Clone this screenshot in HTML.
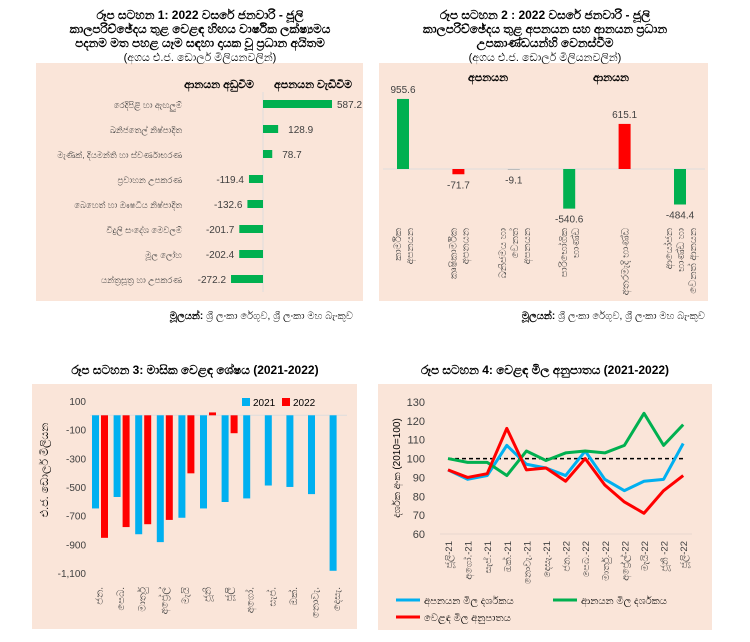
<!DOCTYPE html>
<html><head><meta charset="utf-8"><style>
body{margin:0;background:#fff;width:750px;height:637px;overflow:hidden}
svg text{font-family:"Liberation Sans","Noto Sans CJK SC",sans-serif}
</style></head><body>
<svg id="c" width="750" height="637" xmlns="http://www.w3.org/2000/svg">
<g>
<rect x="36" y="63" width="327" height="238" fill="#fae5d9"/>
<text x="200" y="19" text-anchor="middle" font-size="12" font-weight="bold">රූප සටහන 1: 2022 වසරේ ජනවාරි - ජූලි</text>
<text x="200" y="33" text-anchor="middle" font-size="12" font-weight="bold">කාලපරිච්ඡේදය තුළ වෙළඳ හිඟය වාර්ෂික ලක්ෂ්‍යමය</text>
<text x="200" y="47" text-anchor="middle" font-size="12" font-weight="bold">පදනම මත පහළ යෑම සඳහා දායක වූ ප්‍රධාන අයිතම</text>
<text x="200" y="61" text-anchor="middle" font-size="11">(අගය එ.ජ. ඩොලර් මිලියනවලින්)</text>
<text x="219" y="88" text-anchor="middle" font-size="11" font-weight="bold">ආනයන අඩුවීම</text>
<text x="313" y="88" text-anchor="middle" font-size="11" font-weight="bold">අපනයන වැඩිවීම</text>
<line x1="263" y1="92" x2="263" y2="292" stroke="#ddd"/>
<g id="p1"></g>
<text x="353" y="319" text-anchor="end" font-size="10"><tspan font-weight="bold">මූලයන්:</tspan> ශ්‍රී ලංකා රේගුව, ශ්‍රී ලංකා මහ බැංකුව</text>
</g>
<g>
<rect x="379" y="63" width="329" height="238" fill="#fae5d9"/>
<text x="545" y="19" text-anchor="middle" font-size="12" font-weight="bold">රූප සටහන 2 : 2022 වසරේ ජනවාරි - ජූලි</text>
<text x="545" y="33" text-anchor="middle" font-size="12" font-weight="bold">කාලපරිච්ඡේදය තුළ අපනයන සහ ආනයන ප්‍රධාන</text>
<text x="545" y="47" text-anchor="middle" font-size="12" font-weight="bold">උපකාණ්ඩයන්හි වෙනස්වීම</text>
<text x="545" y="61" text-anchor="middle" font-size="11">(අගය එ.ජ. ඩොලර් මිලියනවලින්)</text>
<text x="488" y="81" text-anchor="middle" font-size="11" font-weight="bold">අපනයන</text>
<text x="611" y="81" text-anchor="middle" font-size="11" font-weight="bold">ආනයන</text>
<line x1="383" y1="169" x2="705" y2="169" stroke="#ddd"/>
<g id="p2"></g>
<text x="705" y="319" text-anchor="end" font-size="10"><tspan font-weight="bold">මූලයන්:</tspan> ශ්‍රී ලංකා රේගුව, ශ්‍රී ලංකා මහ බැංකුව</text>
</g>
<g>
<rect x="32" y="384" width="325" height="245" fill="#fae5d9"/>
<text x="195" y="374" text-anchor="middle" font-size="12" font-weight="bold">රූප සටහන 3: මාසික වෙළඳ ශේෂය (2021-2022)</text>
<text transform="translate(48,470) rotate(-90)" text-anchor="middle" font-size="11">එ.ජ. ඩොලර් මිලියන</text>
<rect x="242" y="398" width="8" height="8" fill="#00b0f0"/>
<text x="253" y="406" font-size="10">2021</text>
<rect x="282" y="398" width="8" height="8" fill="#ff0000"/>
<text x="293" y="406" font-size="10">2022</text>
<g id="p3"></g>
</g>
<g>
<rect x="378" y="384" width="334" height="246" fill="#fae5d9"/>
<text x="545" y="374" text-anchor="middle" font-size="12" font-weight="bold">රූප සටහන 4: වෙළඳ මිල අනුපාතය (2021-2022)</text>
<text transform="translate(400,468) rotate(-90)" text-anchor="middle" font-size="10">දර්ශක අංක (2010=100)</text>
<g id="p4"></g>
<line x1="396" y1="600" x2="420" y2="600" stroke="#00b0f0" stroke-width="3"/>
<text x="424" y="604" font-size="10">අපනයන මිල දර්ශකය</text>
<line x1="553" y1="600" x2="577" y2="600" stroke="#00b050" stroke-width="3"/>
<text x="581" y="604" font-size="10">ආනයන මිල දර්ශකය</text>
<line x1="396" y1="617" x2="420" y2="617" stroke="#ff0000" stroke-width="3"/>
<text x="424" y="621" font-size="10">වෙළඳ මිල අනුපාතය</text>
</g>
</svg>
<script>
const p1Cats=["රෙදිපිළි හා ඇඟලුම්","ඛනිජතෙල් නිෂ්පාදිත","මැණික්, දියමන්ති හා ස්වර්ණාභරණ","ප්‍රවාහන උපකරණ","බෙහෙත් හා ඖෂධීය නිෂ්පාදිත","විදුලි සංදේශ මෙවලම්","මූල ලෝහ","යන්ත්‍රසූත්‍ර හා උපකරණ"];
const p1Vals=[587.2,128.9,78.7,-119.4,-132.6,-201.7,-202.4,-272.2];
const p2Cats=[["කාර්මික","අපනයන"],["කෘෂිකාර්මික","අපනයන"],["ඛනිජමය හා","වෙනත්","අපනයන"],["පාරිභෝගික","භාණ්ඩ"],["අතරමැදි භාණ්ඩ"],["ආයෝජන","භාණ්ඩ හා","වෙනත් ආනයන"]];
const p2Vals=[955.6,-71.7,-9.1,-540.6,615.1,-484.4];
const p2Colors=["#00b050","#ff0000","#bbb","#00b050","#ff0000","#00b050"];
const p3Months=["ජන.","පෙබ.","මාර්තු","අප්‍රේල්","මැයි","ජූනි","ජූලි","අගෝ.","සැප්.","ඔක්.","නොවැ.","දෙසැ."];
const p3V2021=[-650,-570,-830,-885,-715,-650,-605,-580,-490,-500,-550,-1085];
const p3V2022=[-855,-780,-760,-730,-405,20,-125];
const p3Ticks=[100,-100,-300,-500,-700,-900,-1100];
const p4Cats=["ජූලි-21","අගෝ.-21","සැප්.-21","ඔක්.-21","නොවැ.-21","දෙසැ.-21","ජන.-22","පෙබ.-22","මාර්තු.-22","අප්‍රේල්-22","මැයි-22","ජූනි -22","ජූලි-22"];
const p4Export=[94,89,91,107,97,95,91,104,89,83,88,89,108];
const p4Import=[100,98,98,91,104,99,103,104,103,107,124,107,118];
const p4Tot=[94,90,92,116,94,95,88,100,86,77,71,83,91];
const p4Ticks=[130,120,110,100,90,80,70,60];
const NS="http://www.w3.org/2000/svg";
function mk(parent,tag,attrs,txt){const e=document.createElementNS(NS,tag);for(const k in attrs)e.setAttribute(k,attrs[k]);if(txt!==undefined)e.textContent=txt;parent.appendChild(e);return e;}
// Panel 1
const g1=document.getElementById('p1');
const x1=v=>263+v*0.1175;
p1Cats.forEach((c,i)=>{const y=104+i*25;const v=p1Vals[i];
 let t=mk(g1,'text',{x:182,y:y+4,'text-anchor':'end','font-size':'8.5',fill:'#444'},c);
 
 
 let r=mk(g1,'rect',{x:Math.min(x1(0),x1(v)),y:y-4,width:Math.abs(x1(v)-x1(0)),height:8,fill:'#00b050'});
 
 
 let l=mk(g1,'text',{x:v>0?(i===0?x1(v)+5:x1(v)+10):x1(v)-5,y:y+4,'text-anchor':v>0?'start':'end','font-size':'10',fill:'#404040'},v.toFixed(1));
 
 
});
// Panel 2
const g2=document.getElementById('p2');
const y2=v=>169-v*0.0733;
const p2X=i=>403+i*55.4;
p2Vals.forEach((v,i)=>{const cx=p2X(i);
 let r=mk(g2,'rect',{x:cx-6,y:Math.min(y2(v),y2(0)),width:12,height:Math.max(1,Math.abs(y2(v)-y2(0))),fill:p2Colors[i]});
 
 
 let l=mk(g2,'text',{x:cx,y:v>0?y2(v)-6:y2(v)+14,'text-anchor':'middle','font-size':'10',fill:'#404040'},v.toFixed(1));
 
 
 const n=p2Cats[i].length;
 p2Cats[i].forEach((line,j)=>{const lx=cx-(n-1)*6+j*12+4;
  let t=mk(g2,'text',{transform:`translate(${lx},228) rotate(-90)`,'text-anchor':'end','font-size':'10',fill:'#444'},line);
  
  
 });
});
// Panel 3
const g3=document.getElementById('p3');
const y3=v=>415.3-v*0.1433;
p3Ticks.forEach(t=>{let e=mk(g3,'text',{x:86,y:y3(t)+4,'text-anchor':'end','font-size':'10',fill:'#404040'},t.toLocaleString('en-US'));
 
 });
let zl=mk(g3,'line',{x1:90,y1:y3(0),x2:347,y2:y3(0),stroke:'#ddd'});


const gx3=i=>95.5+i*21.6;
p3Months.forEach((m,i)=>{const cx=gx3(i);
 let b=mk(g3,'rect',{x:cx-3.5,y:Math.min(y3(0),y3(p3V2021[i])),width:7,height:Math.abs(y3(p3V2021[i])-y3(0)),fill:'#00b0f0'});
 
 
 if(i<p3V2022.length){const v=p3V2022[i];
  let r=mk(g3,'rect',{x:cx+5.5,y:Math.min(y3(0),y3(v)),width:7,height:Math.abs(y3(v)-y3(0)),fill:'#ff0000'});
  
  }
 let t=mk(g3,'text',{transform:`translate(${cx+7},587) rotate(-90)`,'text-anchor':'end','font-size':'10',fill:'#404040'},m);
 
 
});
// Panel 4
const g4=document.getElementById('p4');
const y4=v=>402+(130-v)*1.886;
const x4=i=>448+i*19.6;
p4Ticks.forEach(t=>{let e=mk(g4,'text',{x:425,y:y4(t)+4,'text-anchor':'end','font-size':'11','font-family':'Liberation Serif, serif',fill:'#404040'},t);
 
 });
let bl=mk(g4,'line',{x1:440,y1:y4(60),x2:692,y2:y4(60),stroke:'#e8d8d0'});


let dl=mk(g4,'line',{x1:x4(0),y1:y4(100),x2:x4(12),y2:y4(100),stroke:'#000','stroke-dasharray':'4,3','stroke-width':1.5});


[[p4Export,'#00b0f0','export-price-index-line'],[p4Import,'#00b050','import-price-index-line'],[p4Tot,'#ff0000','terms-of-trade-line']].forEach(([arr,col,nm])=>{
 let p=mk(g4,'polyline',{points:arr.map((v,i)=>x4(i)+','+y4(v)).join(' '),fill:'none',stroke:col,'stroke-width':3,'stroke-linejoin':'round'});
 
 
});
p4Cats.forEach((c,i)=>{let t=mk(g4,'text',{transform:`translate(${x4(i)+4},541) rotate(-90)`,'text-anchor':'end','font-size':'9.5',fill:'#404040'},c);
 
 });
</script>
</body></html>
